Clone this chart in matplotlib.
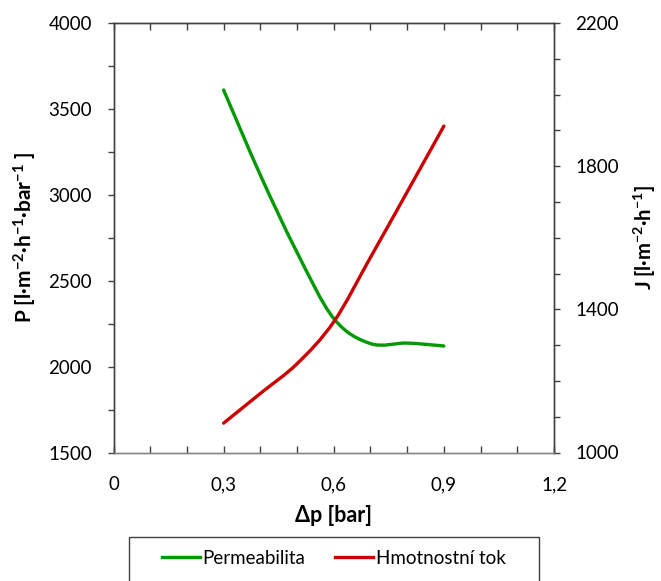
import numpy as np
import matplotlib
matplotlib.use('Agg')
import matplotlib.pyplot as plt
from matplotlib.path import Path
from matplotlib.patches import PathPatch, Rectangle
from matplotlib.lines import Line2D
from matplotlib.ticker import MultipleLocator, FixedLocator, FuncFormatter

plt.rcParams['font.family'] = ['Lato', 'DejaVu Sans']
plt.rcParams['mathtext.default'] = 'regular'

# values
dp = [0.3, 0.4, 0.5, 0.6, 0.7, 0.8, 0.9]
permeabilita = [3610, 3115, 2665, 2280, 2134, 2137, 2120]
hmotnostni_tok = [1082, 1165, 1248, 1365, 1545, 1728, 1912]

green = '#009900'
red = '#cc0000'
axcol = '#404040'


def smooth_path(x, y):
    # excel-like smoothed line: bezier segments with catmull-rom control points
    pts = np.column_stack([x, y]).astype(float)
    n = len(pts)
    verts = [pts[0]]
    codes = [Path.MOVETO]
    for i in range(n - 1):
        p0 = pts[max(i - 1, 0)]
        p1 = pts[i]
        p2 = pts[i + 1]
        p3 = pts[min(i + 2, n - 1)]
        verts += [p1 + (p2 - p0) / 6, p2 - (p3 - p1) / 6, p2]
        codes += [Path.CURVE4] * 3
    return Path(verts, codes)


fig = plt.figure(figsize=(6.61, 5.81), dpi=100)
ax = fig.add_axes([113.5 / 661, 1 - 452.5 / 581, 440.5 / 661, 429.5 / 581])
ax2 = ax.twinx()

ax.add_patch(PathPatch(smooth_path(dp, permeabilita), fill=False, edgecolor=green,
                       lw=2.4, capstyle='round', joinstyle='round', zorder=3))
ax2.add_patch(PathPatch(smooth_path(dp, hmotnostni_tok), fill=False, edgecolor=red,
                        lw=2.4, capstyle='round', joinstyle='round', zorder=3))

ax.set_xlim(0, 1.2)
ax.set_ylim(1500, 4000)
ax2.set_ylim(1000, 2200)

comma = FuncFormatter(lambda v, p: ('%g' % round(v, 3)).replace('.', ','))
ax.xaxis.set_major_locator(MultipleLocator(0.3))
ax.xaxis.set_minor_locator(MultipleLocator(0.1))
ax.xaxis.set_major_formatter(comma)
ax.yaxis.set_major_locator(MultipleLocator(500))
ax.yaxis.set_minor_locator(MultipleLocator(250))
ax2.yaxis.set_major_locator(FixedLocator([1000, 1400, 1800, 2200]))
ax2.yaxis.set_minor_locator(MultipleLocator(100))

ax.tick_params(axis='x', which='both', direction='in', top=True, bottom=True,
               length=5, width=1, color=axcol, labelsize=13.5, pad=17)
ax.tick_params(axis='y', which='both', direction='out', length=4.5, width=1,
               color=axcol, labelsize=13.5, pad=11)
ax2.tick_params(axis='y', which='both', direction='out', length=4.5, width=1,
                color=axcol, labelsize=13.5, pad=11)

for a in (ax, ax2):
    for s in a.spines.values():
        s.set_color(axcol)
        s.set_linewidth(1)
    a.spines['bottom'].set_color('#868686')

ax.set_xlabel('Δp [bar]', fontsize=15.5, fontweight='bold')
ax.xaxis.set_label_coords(0.5, -0.122)
ax.set_ylabel('P [l·m$^{-2}$·h$^{-1}$·bar$^{-1}$ ]', fontsize=15, fontweight='bold', va='center')
ax.yaxis.set_label_coords(-0.201, 0.5)
ax2.set_ylabel('J [l·m$^{-2}$·h$^{-1}$]', fontsize=14.5, fontweight='bold', va='center')
ax2.yaxis.set_label_coords(1.206, 0.5)

fig.patches.append(Rectangle((129 / 661, -0.05), 410 / 661, 0.05 + 44 / 581,
                             transform=fig.transFigure, fill=False,
                             edgecolor=axcol, lw=1))
handles = [Line2D([], [], color=green, lw=2.4), Line2D([], [], color=red, lw=2.4)]
fig.legend(handles, ['Permeabilita', 'Hmotnostní tok'], loc='center',
           bbox_to_anchor=(0.505, 0.039), ncol=2, frameon=False, fontsize=13.5,
           handlelength=2.0, handletextpad=0.15, columnspacing=1.6)

fig.savefig('out.png', dpi=100)
